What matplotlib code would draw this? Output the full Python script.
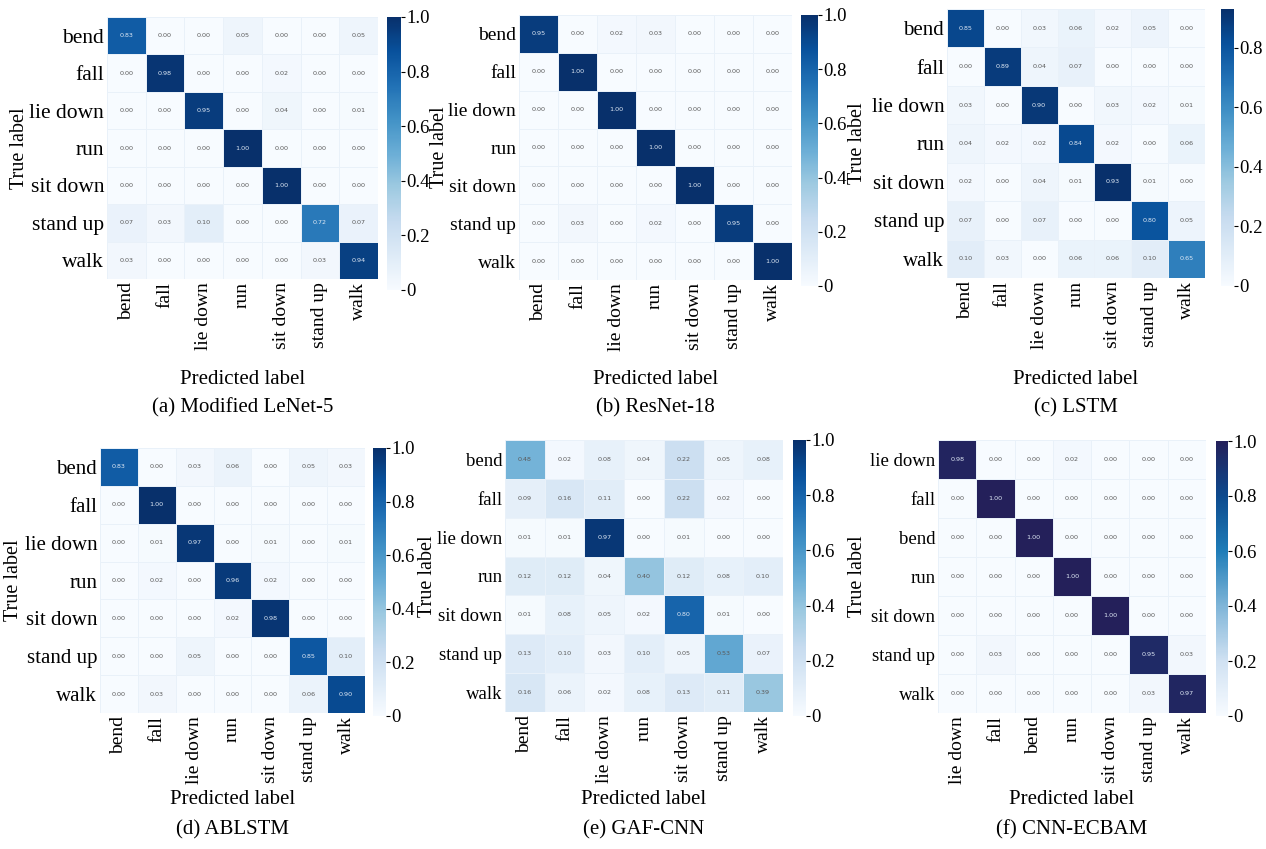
"""Confusion matrices for six activity recognition models."""

import matplotlib
matplotlib.use("Agg")

import numpy as np
import matplotlib.pyplot as plt
from matplotlib.colors import LinearSegmentedColormap
from matplotlib.ticker import FuncFormatter

ACTIVITIES = ["bend", "fall", "lie down", "run", "sit down", "stand up", "walk"]
ACTIVITIES_F = ["lie down", "fall", "bend", "run", "sit down", "stand up", "walk"]

cm_lenet = [
    [0.83, 0.00, 0.00, 0.05, 0.00, 0.00, 0.05],
    [0.00, 0.98, 0.00, 0.00, 0.02, 0.00, 0.00],
    [0.00, 0.00, 0.95, 0.00, 0.04, 0.00, 0.01],
    [0.00, 0.00, 0.00, 1.00, 0.00, 0.00, 0.00],
    [0.00, 0.00, 0.00, 0.00, 1.00, 0.00, 0.00],
    [0.07, 0.03, 0.10, 0.00, 0.00, 0.72, 0.07],
    [0.03, 0.00, 0.00, 0.00, 0.00, 0.03, 0.94],
]
cm_resnet = [
    [0.95, 0.00, 0.02, 0.03, 0.00, 0.00, 0.00],
    [0.00, 1.00, 0.00, 0.00, 0.00, 0.00, 0.00],
    [0.00, 0.00, 1.00, 0.00, 0.00, 0.00, 0.00],
    [0.00, 0.00, 0.00, 1.00, 0.00, 0.00, 0.00],
    [0.00, 0.00, 0.00, 0.00, 1.00, 0.00, 0.00],
    [0.00, 0.03, 0.00, 0.02, 0.00, 0.95, 0.00],
    [0.00, 0.00, 0.00, 0.00, 0.00, 0.00, 1.00],
]
cm_lstm = [
    [0.85, 0.00, 0.03, 0.06, 0.02, 0.05, 0.00],
    [0.00, 0.89, 0.04, 0.07, 0.00, 0.00, 0.00],
    [0.03, 0.00, 0.90, 0.00, 0.03, 0.02, 0.01],
    [0.04, 0.02, 0.02, 0.84, 0.02, 0.00, 0.06],
    [0.02, 0.00, 0.04, 0.01, 0.93, 0.01, 0.00],
    [0.07, 0.00, 0.07, 0.00, 0.00, 0.80, 0.05],
    [0.10, 0.03, 0.00, 0.06, 0.06, 0.10, 0.65],
]
cm_ablstm = [
    [0.83, 0.00, 0.03, 0.06, 0.00, 0.05, 0.03],
    [0.00, 1.00, 0.00, 0.00, 0.00, 0.00, 0.00],
    [0.00, 0.01, 0.97, 0.00, 0.01, 0.00, 0.01],
    [0.00, 0.02, 0.00, 0.96, 0.02, 0.00, 0.00],
    [0.00, 0.00, 0.00, 0.02, 0.98, 0.00, 0.00],
    [0.00, 0.00, 0.05, 0.00, 0.00, 0.85, 0.10],
    [0.00, 0.03, 0.00, 0.00, 0.00, 0.06, 0.90],
]
cm_gafcnn = [
    [0.48, 0.02, 0.08, 0.04, 0.22, 0.05, 0.08],
    [0.09, 0.16, 0.11, 0.00, 0.22, 0.02, 0.00],
    [0.01, 0.01, 0.97, 0.00, 0.01, 0.00, 0.00],
    [0.12, 0.12, 0.04, 0.40, 0.12, 0.08, 0.10],
    [0.01, 0.08, 0.05, 0.02, 0.80, 0.01, 0.00],
    [0.13, 0.10, 0.03, 0.10, 0.05, 0.53, 0.07],
    [0.16, 0.06, 0.02, 0.08, 0.13, 0.11, 0.39],
]
cm_ecbam = [
    [0.98, 0.00, 0.00, 0.02, 0.00, 0.00, 0.00],
    [0.00, 1.00, 0.00, 0.00, 0.00, 0.00, 0.00],
    [0.00, 0.00, 1.00, 0.00, 0.00, 0.00, 0.00],
    [0.00, 0.00, 0.00, 1.00, 0.00, 0.00, 0.00],
    [0.00, 0.00, 0.00, 0.00, 1.00, 0.00, 0.00],
    [0.00, 0.03, 0.00, 0.00, 0.00, 0.95, 0.03],
    [0.00, 0.00, 0.00, 0.00, 0.00, 0.03, 0.97],
]

SERIF = "Liberation Serif"
plt.rcParams["font.family"] = SERIF

# navy-ended blue map for the last model
ecbam_cmap = LinearSegmentedColormap.from_list(
    "ecbam",
    [(0.0, "#f7fbff"), (0.2, "#d0e1f2"), (0.4, "#7fb5d8"),
     (0.6, "#1f7db8"), (0.8, "#0d4a8e"), (1.0, "#24205a")],
)

W, H = 1266, 849


def px(x0, y0, x1, y1):
    return [x0 / W, 1 - y1 / H, (x1 - x0) / W, (y1 - y0) / H]


def draw_cm(fig, cm, labels, caption, hm, cb, ylab_x, ysize=14, vmax=1.0,
            cmap="Blues", cbar_ticks=(0, 0.2, 0.4, 0.6, 0.8, 1.0)):
    cm = np.asarray(cm)
    n = len(labels)
    ax = fig.add_axes(px(*hm))
    cmap = plt.get_cmap(cmap) if isinstance(cmap, str) else cmap
    mesh = ax.pcolormesh(np.arange(n + 1), np.arange(n + 1), cm, cmap=cmap,
                         vmin=0, vmax=vmax, edgecolors="#e9f1f9", linewidth=0.5)
    ax.set_xlim(0, n)
    ax.set_ylim(n, 0)
    for i in range(n):
        for j in range(n):
            v = cm[i, j]
            color = "#dfe9f5" if v / vmax > 0.6 else "#5a5a5a"
            ax.text(j + 0.5, i + 0.5, f"{v:.2f}", ha="center", va="center",
                    fontsize=4.6, color=color, family="DejaVu Sans")
    ax.set_xticks(np.arange(n) + 0.5)
    ax.set_yticks(np.arange(n) + 0.5)
    ax.set_xticklabels(labels, rotation=90, fontsize=14)
    ax.set_yticklabels(labels, fontsize=ysize)
    ax.tick_params(length=0, pad=2)
    for s in ax.spines.values():
        s.set_visible(False)

    x_mid = (hm[0] + hm[2]) / 2 / W
    fig.text(ylab_x / W, 1 - (hm[1] + hm[3]) / 2 / H, "True label", rotation=90,
             ha="center", va="center", fontsize=14.5)
    row2 = hm[1] > 400
    fig.text(x_mid, 1 - (800 if row2 else 379) / H, "Predicted label",
             ha="center", va="center", fontsize=15)
    fig.text(x_mid, 1 - (830 if row2 else 408) / H, caption,
             ha="center", va="center", fontsize=15)

    cax = fig.add_axes(px(*cb))
    bar = fig.colorbar(mesh, cax=cax, ticks=list(cbar_ticks))
    bar.outline.set_visible(False)
    bar.ax.yaxis.set_major_formatter(
        FuncFormatter(lambda v, _: "0" if v == 0 else f"{v:.1f}"))
    bar.ax.tick_params(labelsize=13.5, length=3, width=0.8, pad=1)


fig = plt.figure(figsize=(W / 100, H / 100), dpi=100)

draw_cm(fig, cm_lenet, ACTIVITIES, "(a) Modified LeNet-5",
        (107, 17, 378, 279), (387, 17, 401, 290), 20, ysize=15.5)
draw_cm(fig, cm_resnet, ACTIVITIES, "(b) ResNet-18",
        (519, 15, 792, 280), (801, 15, 818, 286), 440, ysize=14)
draw_cm(fig, cm_lstm, ACTIVITIES, "(c) LSTM",
        (947, 9, 1205, 278), (1221, 9, 1234, 286), 858, ysize=15,
        vmax=0.93, cbar_ticks=(0, 0.2, 0.4, 0.6, 0.8))
draw_cm(fig, cm_ablstm, ACTIVITIES, "(d) ABLSTM",
        (100, 448, 365, 713), (373, 448, 386, 716), 14, ysize=15)
draw_cm(fig, cm_gafcnn, ACTIVITIES, "(e) GAF-CNN",
        (505, 440, 783, 712), (793, 440, 806, 716), 428, ysize=13.5)
draw_cm(fig, cm_ecbam, ACTIVITIES_F, "(f) CNN-ECBAM",
        (938, 440, 1206, 713), (1216, 441, 1228, 716), 858, ysize=13.5,
        cmap=ecbam_cmap)

fig.savefig("out.png", dpi=100)
plt.close(fig)
